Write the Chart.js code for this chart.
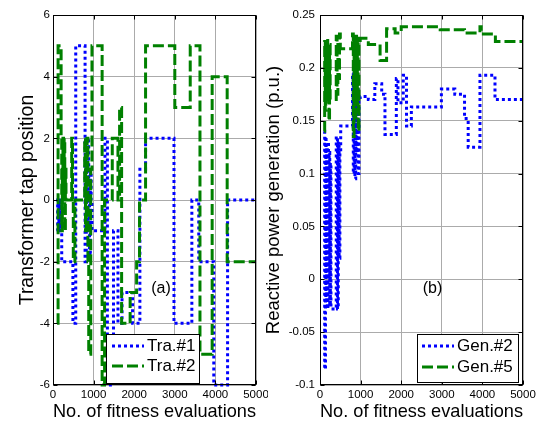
<!DOCTYPE html>
<html><head><meta charset="utf-8">
<script src="https://cdn.jsdelivr.net/npm/chart.js@4.4.1/dist/chart.umd.min.js"></script>
<style>
html,body{margin:0;padding:0;background:#fff;}
#wrap{position:relative;width:538px;height:423px;overflow:hidden;background:#fff;}
canvas{position:absolute;top:0;}
#c1{left:0;}
#c2{left:262px;}
</style></head><body>
<div id="wrap"><canvas id="c1" width="268" height="423"></canvas><canvas id="c2" width="276" height="423"></canvas></div>
<script>
// ---------- data ----------
const evalTicks = [0, 1000, 2000, 3000, 4000, 5000];
const tapTicks = [-6, -4, -2, 0, 2, 4, 6];
const qTicks = [-0.1, -0.05, 0, 0.05, 0.1, 0.15, 0.2, 0.25];

// (a) transformer tap positions (stairs: value held until next evaluation count)
const tra1X = [100,115,130,145,160,175,190,215,490,560,790,820,840,860,880,900,920,940,960,1280,1340,1490,1600,1700,1960,2140,2280,2980,3420,3590,3960,4300,5000];
const tra1Y = [-1,0,-1,0,-1,0,-1,-2,-4,5,-2,1,-1,2,0,-2,1,0,-1,2,-6,-1,-4,-3,-4,1,2,-4,0,-2,-6,0,0];
const tra2X = [100,125,200,215,230,245,260,275,290,305,320,460,480,500,540,780,800,820,840,860,880,930,960,1210,1270,1460,1600,1640,1690,1900,2060,2130,2280,3000,3380,3620,3920,4290,5000];
const tra2Y = [-4,5,2,-1,1,2,0,2,-1,1,0,2,0,-2,0,2,-1,1,2,-2,-5,1,5,-6,0,2,0,3,-4,-3,-2,0,5,3,5,-5,4,-2,-2];

// (b) reactive power generation (p.u.)
const gen2X = [100,115,135,150,165,180,195,210,225,240,255,270,400,430,450,470,490,510,800,820,840,860,880,900,920,940,960,990,1190,1350,1520,1600,1880,1920,2050,2130,2250,2990,3320,3560,3650,3940,4310,5000];
const gen2Y = [0.14,-0.085,0.135,-0.02,0.125,-0.028,0.13,0.0,0.12,-0.025,0.11,-0.028,0.135,-0.028,0.13,0.02,0.12,0.145,0.195,0.1,0.185,0.095,0.18,0.12,0.19,0.1,0.17,0.173,0.17,0.185,0.175,0.137,0.19,0.167,0.193,0.145,0.163,0.18,0.175,0.152,0.125,0.193,0.17,0.17];
const gen5X = [100,115,130,145,160,175,190,205,220,235,250,400,420,440,460,480,500,800,820,840,860,880,900,920,940,960,990,1190,1480,1640,1850,2000,2960,3560,3940,3970,4320,5000];
const gen5Y = [0.14,0.225,0.16,0.22,0.175,0.228,0.17,0.215,0.15,0.222,0.17,0.23,0.175,0.225,0.19,0.232,0.218,0.232,0.135,0.225,0.15,0.23,0.165,0.228,0.14,0.222,0.228,0.222,0.207,0.237,0.233,0.239,0.236,0.233,0.239,0.232,0.225,0.225];

const labelsA = ['Tra.#1', 'Tra.#2'];
const labelsB = ['Gen.#2', 'Gen.#5'];

// ---------- styling ----------
const FONT = "'Liberation Sans', Arial, Helvetica, sans-serif";
const BLUE = '#0000ff', GREEN = '#008000', GRID = '#ababab';
const pts = (xs, ys) => xs.map((x, i) => ({x: x, y: ys[i]}));

const boxPlugin = {
  id: 'matlabBox',
  afterDraw(chart, args, opts) {
    const {ctx, chartArea: a, scales} = chart;
    const xs = scales.x, ys = scales.y;
    ctx.save();
    ctx.strokeStyle = '#000';
    ctx.lineWidth = 1;
    ctx.setLineDash([]);
    const L = Math.round(a.left) + 0.5, R = Math.round(a.right) - 0.5;
    const T = Math.round(a.top) + 0.5, B = Math.round(a.bottom) - 0.5;
    ctx.strokeRect(L, T, R - L, B - T);
    const tl = 4;
    ctx.beginPath();
    xs.ticks.forEach(t => {
      const p = Math.round(xs.getPixelForValue(t.value)) + 0.5;
      ctx.moveTo(p, B); ctx.lineTo(p, B - tl);
      ctx.moveTo(p, T); ctx.lineTo(p, T + tl);
    });
    ys.ticks.forEach(t => {
      const p = Math.round(ys.getPixelForValue(t.value)) + 0.5;
      ctx.moveTo(L, p); ctx.lineTo(L + tl, p);
      ctx.moveTo(R, p); ctx.lineTo(R - tl, p);
    });
    ctx.stroke();
    // panel note
    const n = opts.note;
    ctx.fillStyle = '#000';
    ctx.font = n.size + 'px ' + FONT;
    ctx.textAlign = 'center';
    ctx.textBaseline = 'middle';
    ctx.fillText(n.text, n.x, n.y);
    // legend
    const lg = opts.legend;
    ctx.fillStyle = '#fff';
    ctx.fillRect(lg.x, lg.y, lg.w, lg.h);
    ctx.strokeStyle = '#000';
    ctx.lineWidth = 1;
    ctx.strokeRect(lg.x + 0.5, lg.y + 0.5, lg.w, lg.h);
    ctx.font = lg.size + 'px ' + FONT;
    ctx.textAlign = 'left';
    ctx.textBaseline = 'middle';
    chart.data.datasets.forEach((ds, i) => {
      const ry = lg.y + lg.rows[i];
      ctx.beginPath();
      ctx.strokeStyle = ds.borderColor;
      ctx.lineWidth = ds.borderWidth;
      ctx.setLineDash(ds.borderDash);
      ctx.lineCap = 'butt';
      ctx.moveTo(lg.x + lg.s0, ry);
      ctx.lineTo(lg.x + lg.s1, ry);
      ctx.stroke();
      ctx.setLineDash([]);
      ctx.fillStyle = '#000';
      ctx.fillText(ds.label, lg.x + lg.tx, ry);
    });
    ctx.restore();
  }
};

function zeroPad(s) { s.paddingLeft = 0; s.paddingRight = 0; s.paddingTop = 0; s.paddingBottom = 0; }

function makeChart(id, o) {
  return new Chart(document.getElementById(id), {
    type: 'line',
    data: {
      datasets: [
        {label: o.labels[0], data: pts(o.x1, o.y1), borderColor: BLUE, borderWidth: 3, borderDash: [3, 3],
         stepped: true, pointRadius: 0, fill: false, clip: 6, order: 1, borderCapStyle: 'butt'},
        {label: o.labels[1], data: pts(o.x2, o.y2), borderColor: GREEN, borderWidth: 3, borderDash: [11, 4],
         stepped: true, pointRadius: 0, fill: false, clip: 6, order: 0, borderCapStyle: 'butt'}
      ]
    },
    options: {
      responsive: false,
      animation: false,
      devicePixelRatio: 1,
      layout: {padding: {left: 0, right: o.padRight, top: 15, bottom: 0}},
      plugins: {
        legend: {display: false},
        tooltip: {enabled: false},
        matlabBox: {legend: o.legend, note: o.note}
      },
      scales: {
        x: {
          type: 'linear', min: 0, max: 5000,
          afterBuildTicks: s => { s.ticks = evalTicks.map(v => ({value: v})); },
          afterFit: s => { s.height = 38; zeroPad(s); },
          ticks: {color: '#000', padding: 3, maxRotation: 0, autoSkip: false,
                  font: {family: FONT, size: 11.5, lineHeight: 1.2}, callback: v => String(v)},
          grid: {color: GRID, lineWidth: 1, drawTicks: false},
          border: {display: false},
          title: {display: true, text: 'No. of fitness evaluations', color: '#000',
                  font: {family: FONT, size: 19, lineHeight: 1.2}, padding: {top: 0, bottom: 0}}
        },
        y: {
          type: 'linear', min: o.yMin, max: o.yMax,
          afterBuildTicks: s => { s.ticks = o.yTicks.map(v => ({value: v})); },
          afterFit: s => { s.width = o.yWidth; zeroPad(s); },
          ticks: {color: '#000', padding: o.yTickPad, autoSkip: false,
                  font: {family: FONT, size: 11.5, lineHeight: 1.2},
                  callback: v => String(Math.round(v * 100) / 100)},
          grid: {color: GRID, lineWidth: 1, drawTicks: false},
          border: {display: false},
          title: {display: true, text: o.yTitle, color: '#000',
                  font: {family: FONT, size: o.yTitleSize, lineHeight: 1.2}, padding: {top: o.yTitlePad, bottom: 0}}
        }
      }
    },
    plugins: [boxPlugin]
  });
}

makeChart('c1', {
  labels: labelsA, x1: tra1X, y1: tra1Y, x2: tra2X, y2: tra2Y,
  yMin: -6, yMax: 6, yTicks: tapTicks, yWidth: 53, yTickPad: 3,
  yTitle: 'Transformer tap position', yTitleSize: 19.5, yTitlePad: 15.5, padRight: 12,
  legend: {x: 106, y: 334, w: 93, h: 49, rows: [12, 32], s0: 6, s1: 38, tx: 41, size: 17},
  note: {text: '(a)', x: 161, y: 289, size: 16}
});

makeChart('c2', {
  labels: labelsB, x1: gen2X, y1: gen2Y, x2: gen5X, y2: gen5Y,
  yMin: -0.1, yMax: 0.25, yTicks: qTicks, yWidth: 58, yTickPad: 5,
  yTitle: 'Reactive power generation (p.u.)', yTitleSize: 18.5, yTitlePad: 1, padRight: 15,
  legend: {x: 155, y: 334, w: 101, h: 48, rows: [12, 33], s0: 5, s1: 37, tx: 40, size: 17},
  note: {text: '(b)', x: 170.5, y: 289, size: 16}
});
</script>
</body></html>
